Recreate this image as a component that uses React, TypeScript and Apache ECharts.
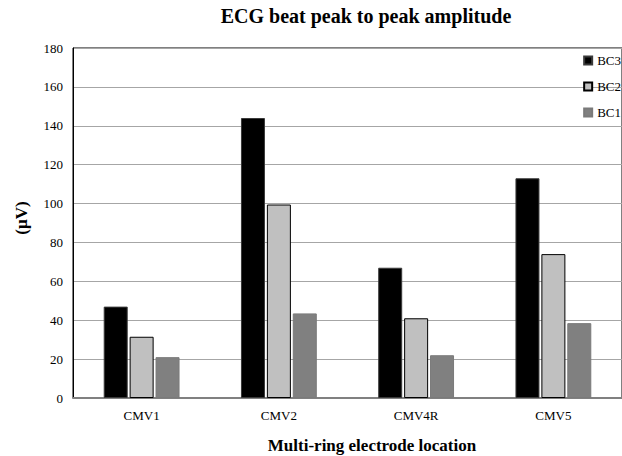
import React, { useEffect, useRef } from "react";
import * as echarts from "echarts";

const categories = ["CMV1", "CMV2", "CMV4R", "CMV5"];
const seriesNames = ["BC3", "BC2", "BC1"];
const bc3 = [47, 144, 67, 113];
const bc2 = [31.5, 99.5, 41, 74];
const bc1 = [21, 43.5, 22, 38.5];

const FONT = "Liberation Serif";

export default function App() {
  const ref = useRef<HTMLDivElement>(null);

  useEffect(() => {
    if (!ref.current) return;
    const chart = echarts.init(ref.current, null, { renderer: "svg" });

    const barStyles = [
      { color: "#000000", borderColor: "#3a3a3a", borderWidth: 1 },
      { color: "#c0c0c0", borderColor: "#000000", borderWidth: 1 },
      { color: "#808080", borderColor: "#7a7a7a", borderWidth: 1 },
    ];
    const values = [bc3, bc2, bc1];

    chart.setOption({
      animation: false,
      backgroundColor: "#ffffff",
      textStyle: { fontFamily: FONT },
      grid: {
        left: 73,
        top: 48,
        bottom: 58,
        right: -10,
        show: true,
        borderColor: "#000000",
        borderWidth: 1,
        containLabel: false,
      },
      legend: {
        orient: "vertical",
        right: 1,
        top: 54,
        padding: 0,
        align: "left",
        itemWidth: 8,
        itemHeight: 8,
        itemGap: 13,
        itemTextGap: 3,
        icon: "rect",
        data: seriesNames,
        textStyle: { fontFamily: FONT, fontSize: 13, color: "#000", overflow: "none" },
      },
      xAxis: {
        type: "category",
        data: categories,
        axisLine: { lineStyle: { color: "#808080", width: 2 } },
        axisTick: { show: false },
        axisLabel: { fontFamily: FONT, fontSize: 13, color: "#000", margin: 11 },
      },
      yAxis: {
        type: "value",
        min: 0,
        max: 180,
        interval: 20,
        axisLine: { show: true, lineStyle: { color: "#000", width: 1 } },
        axisTick: { show: false },
        axisLabel: { fontFamily: FONT, fontSize: 13, color: "#000", margin: 10 },
        splitLine: { lineStyle: { color: "#a6a6a6", width: 1 } },
      },
      series: seriesNames.map((name, i) => ({
        name,
        type: "bar",
        data: values[i],
        barWidth: 24,
        barGap: "8%",
        itemStyle: barStyles[i],
      })),
      graphic: [
        {
          type: "text",
          x: 366,
          y: 16,
          style: {
            text: "ECG beat peak to peak amplitude",
            fontFamily: FONT,
            fontSize: 20,
            fontWeight: "bold",
            fill: "#000",
            align: "center",
            verticalAlign: "middle",
          },
        },
        {
          type: "text",
          x: 372,
          y: 445,
          style: {
            text: "Multi-ring electrode location",
            fontFamily: FONT,
            fontSize: 17,
            fontWeight: "bold",
            fill: "#000",
            align: "center",
            verticalAlign: "middle",
          },
        },
        {
          type: "text",
          x: 21,
          y: 218,
          rotation: Math.PI / 2,
          style: {
            text: "(μV)",
            fontFamily: FONT,
            fontSize: 17,
            fontWeight: "bold",
            fill: "#000",
            align: "center",
            verticalAlign: "middle",
          },
        },
      ],
    });

    return () => chart.dispose();
  }, []);

  return (
    <div
      ref={ref}
      style={{ position: "absolute", left: 0, top: 0, width: 622, height: 456 }}
    />
  );
}
